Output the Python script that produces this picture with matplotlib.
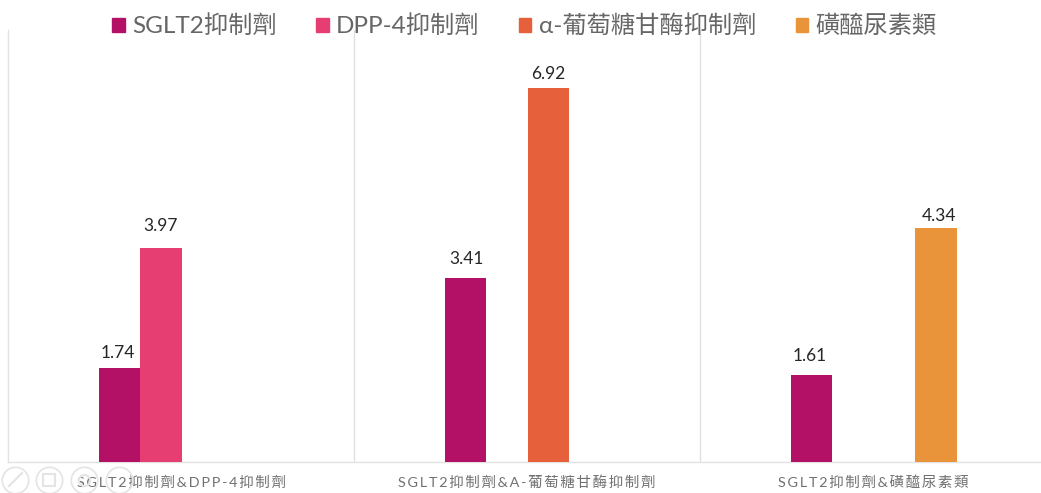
#Import
import numpy as np
import matplotlib.pyplot as plt
from matplotlib.patches import Patch

plt.rcParams['font.family'] = ['Lato', 'Noto Sans CJK TC', 'DejaVu Sans']

#Data
groups = ["SGLT2抑制劑&DPP-4抑制劑", "SGLT2抑制劑&A-葡萄糖甘酶抑制劑", "SGLT2抑制劑&磺醯尿素類"]
series_names = ["SGLT2抑制劑", "DPP-4抑制劑", "α-葡萄糖甘酶抑制劑", "磺醯尿素類"]
sglt2 = [1.74, 3.41, 1.61]
dpp4 = [3.97, np.nan, np.nan]
alpha = [np.nan, 6.92, np.nan]
sulfonylurea = [np.nan, np.nan, 4.34]
colors = ["#b31166", "#e63e72", "#e6603c", "#e9943a"]

#Label offsets in points (dx, dy), one per label as in the reference
label_offsets = {
    (0, 0): (-1.5, 5), (1, 0): (0, 10),
    (0, 1): (0.5, 8), (2, 1): (0, 4.5),
    (0, 2): (-1, 8), (3, 2): (2, 2.5),
}

W, H = 1041, 493
fig = plt.figure(figsize=(W / 100, H / 100), dpi=100)
ax = fig.add_axes([8 / W, (H - 462) / H, (W - 8) / W, 432 / H])

x = np.arange(3) + 0.5
width = 0.12
all_series = [sglt2, dpp4, alpha, sulfonylurea]

for i, values in enumerate(all_series):
    pos = x + (i - 1.5) * width + 0.002
    ax.bar(pos, values, width=width, color=colors[i], zorder=3)
    for j, v in enumerate(values):
        if np.isnan(v):
            continue
        dx, dy = label_offsets[(i, j)]
        ax.annotate(f"{v:.2f}", (pos[j], v), xytext=(dx, dy), textcoords="offset points",
                    ha="center", va="bottom", fontsize=12.5, color="#262626")

ax.set_xlim(0, (W - 8) / 346)
ax.set_ylim(0, 8)
ax.set_yticks([])
ax.set_xticks(x)
# letter spacing of the category labels
ax.set_xticklabels(["\u2009".join(g) for g in groups], fontsize=10.4, color="#707070")
ax.tick_params(axis="x", length=0, pad=9.5)

for sep in [1, 2]:
    ax.axvline(sep, color="#dedede", lw=0.9, zorder=1)

for s in ["top", "right"]:
    ax.spines[s].set_visible(False)
for s in ["left", "bottom"]:
    ax.spines[s].set_color("#e2e2e2")
    ax.spines[s].set_linewidth(1.0)

#Legend
handles = [Patch(color=c, label=n) for c, n in zip(colors, series_names)]
fig.legend(handles=handles, loc="center", bbox_to_anchor=(524.5 / W, (H - 26) / H), ncol=4,
           frameon=False, fontsize=17.5, labelcolor="#666666", handlelength=0.5,
           handleheight=0.5, handletextpad=0.3, columnspacing=1.64, borderpad=0)

#Faint toolbar icons at the lower left
icon_y = (H - 480) / H
for cx, inner in zip([15, 49, 84, 119], ["", "s", "o", ""]):
    fig.add_artist(plt.Line2D([cx / W], [icon_y], marker="o", ms=19, mfc="none",
                              mec="#e4e4e4", mew=1.2))
    if inner:
        fig.add_artist(plt.Line2D([cx / W], [icon_y], marker=inner, ms=8, mfc="none",
                                  mec="#e4e4e4", mew=1.5))
fig.add_artist(plt.Line2D([9 / W, 22 / W], [(H - 486) / H, (H - 473) / H],
                          color="#e4e4e4", lw=1.5))

fig.savefig("out.png", dpi=100)
